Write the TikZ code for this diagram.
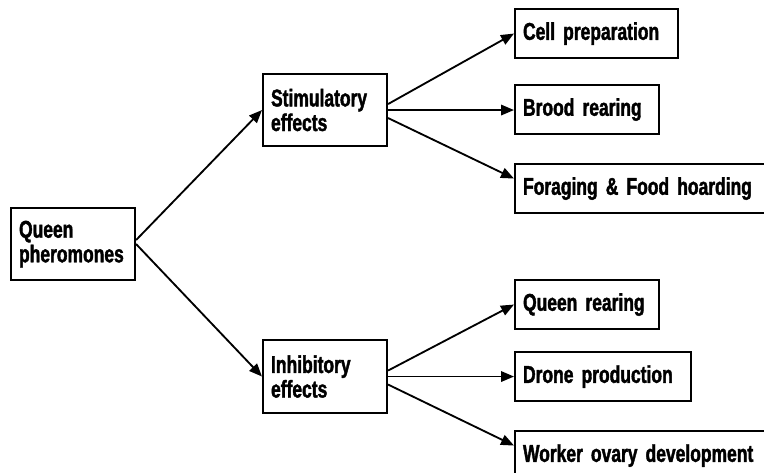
\documentclass[tikz,border=0pt]{standalone}
\usepackage{fontspec}
\setmainfont{Liberation Sans}[FakeStretch=0.72,BoldFeatures={FakeBold=1.6}]
\usepackage{tikz}
\usetikzlibrary{arrows.meta,positioning,calc}
\tikzset{
    >={Triangle[length=2.6mm,width=2.1mm]},
    every picture/.style={line width=1.05pt},
    box/.style 2 args={draw,line width=1.2pt,anchor=north west,align=left,
        inner xsep=0.16cm,inner ysep=0pt,text width=#1,minimum height=#2,
        font=\bfseries\fontsize{13.8}{14}\selectfont}
}
\begin{document}
\begin{tikzpicture}[x=0.02cm,y=-0.02cm]
        \useasboundingbox (0,0) rectangle (764,473);
        \clip (0,0) rectangle (764,473);
        % Root
        \node[box={2.16cm}{1.44cm}] (queen) at (10,207) {Queen\\pheromones};

        % Second level
        \node[box={2.16cm}{1.44cm}] (stim) at (262,73) {Stimulatory\\effects};
        \node[box={2.16cm}{1.46cm}] (inhib) at (262,339) {Inhibitory\\effects};

        % Stimulatory leaves
        \node[box={2.94cm}{0.98cm}] (cell) at (514,8) {Cell preparation};
        \node[box={2.56cm}{0.98cm}] (brood) at (514,84) {Brood rearing};
        \node[box={4.9cm}{0.98cm}] (forag) at (514,163) {Foraging \& Food hoarding};

        % Inhibitory leaves
        \node[box={2.56cm}{0.98cm}] (qrear) at (514,279) {Queen rearing};
        \node[box={3.2cm}{0.98cm}] (drone) at (514,351) {Drone production};
        \node[box={4.9cm}{0.98cm}] (worker) at (514,430) {Worker ovary development};

        % Arrows
        \draw[->] ([yshift=0.08cm]queen.east) -- (stim.west);
        \draw[->] (queen.east) -- (inhib.west);

        \draw[->] ([yshift=0.12cm]stim.east) -- (cell.west);
        \draw[->] (stim.east) -- (stim.east -| brood.west);
        \draw[->] ([yshift=-0.16cm]stim.east) -- ([yshift=0.2cm]forag.west);

        \draw[->] ([yshift=0.12cm]inhib.east) -- (qrear.west);
        \draw[->] (inhib.east) -- (inhib.east -| drone.west);
        \draw[->] ([yshift=-0.16cm]inhib.east) -- ([yshift=0.2cm]worker.west);
    \end{tikzpicture}
\end{document}
